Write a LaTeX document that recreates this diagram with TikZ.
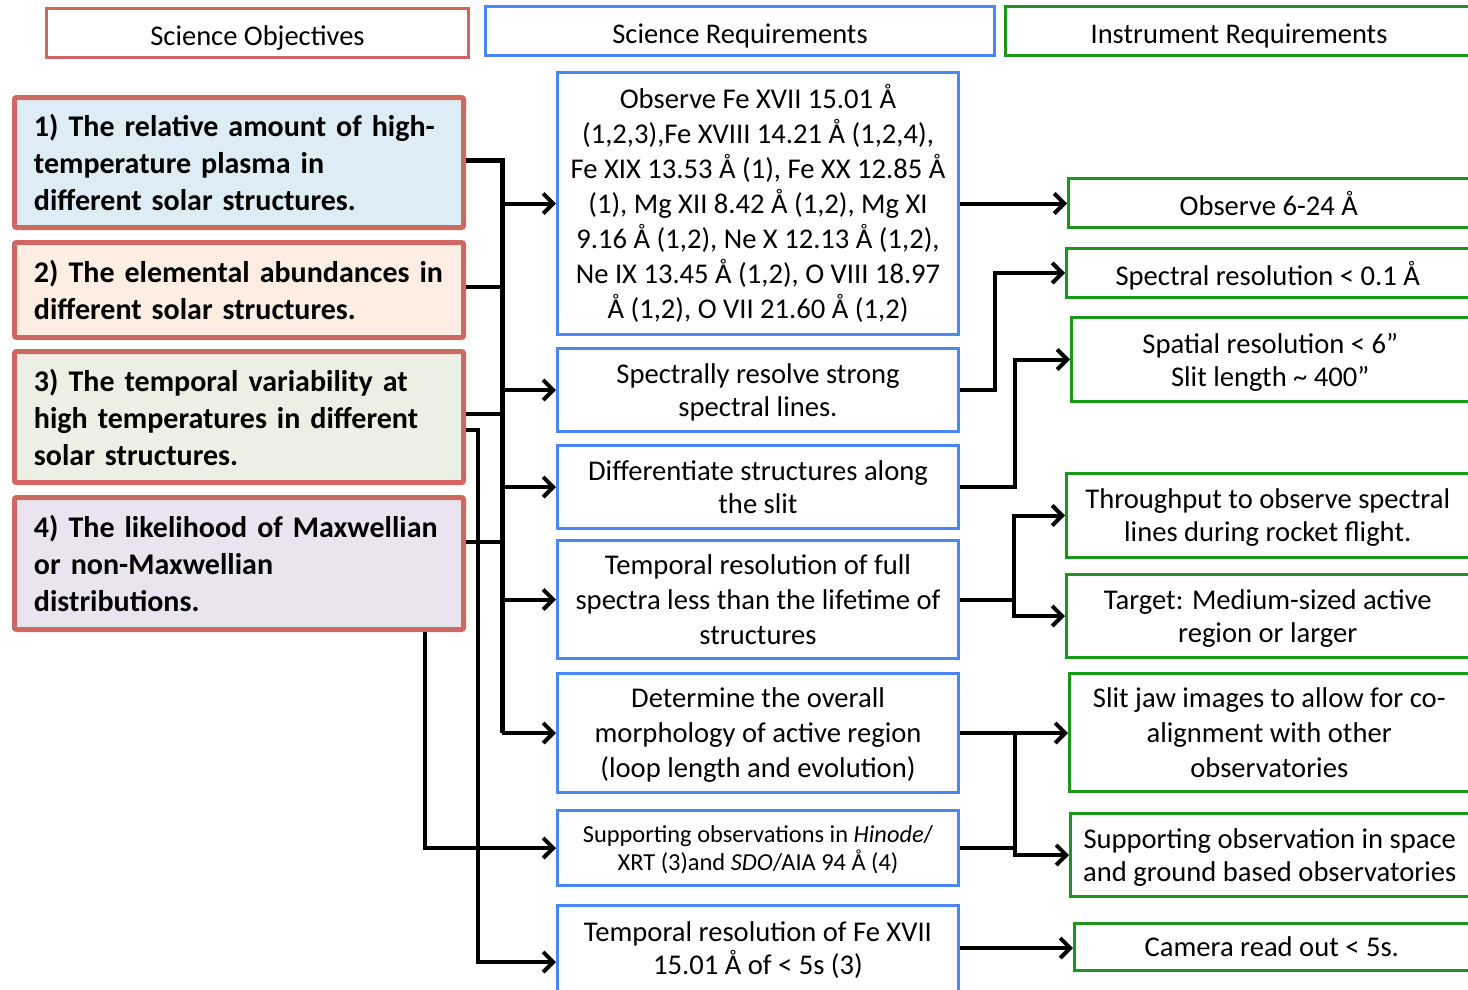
\documentclass[tikz,border=0pt]{standalone}
\usepackage{fontspec}
\setmainfont{Carlito}
\usetikzlibrary{arrows.meta}
\definecolor{objred}{RGB}{206,104,98}
\definecolor{reqblue}{RGB}{74,134,247}
\definecolor{insgreen}{RGB}{26,150,26}
\definecolor{fillA}{RGB}{222,236,245}
\definecolor{fillB}{RGB}{253,237,226}
\definecolor{fillC}{RGB}{236,240,228}
\definecolor{fillD}{RGB}{233,228,240}
\begin{document}
\begin{tikzpicture}[x=1pt,y=-1pt,
  hdr/.style={draw, line width=3pt, minimum height=49pt, inner sep=0pt, text height=25pt, text depth=0pt, font=\fontsize{28.5}{32}\selectfont},
  obj/.style={draw=objred, line width=5pt, rounded corners=2pt, minimum width=449pt, inner xsep=19.5pt, inner ysep=0pt, text width=410pt, align=left, font=\bfseries\fontsize{30}{37}\selectfont},
  req/.style={draw=reqblue, line width=3pt, minimum width=401pt, inner sep=0pt, text depth=0pt, align=center, font=\fontsize{28.6}{35}\selectfont},
  ins/.style={draw=insgreen, line width=3pt, inner sep=0pt, text depth=0pt, align=center, font=\fontsize{28.6}{33}\selectfont},
  ln/.style={line width=4pt},
  arr/.style={line width=4pt, -{Straight Barb[length=10pt,width=20pt]}}
]
\useasboundingbox (0,0) rectangle (1468,989);
\clip (0,0) rectangle (1468,989);

% headers
\node[hdr, draw=objred, minimum width=422pt] (h1) at (257.5,33) {Science Objectives};
\node[hdr, draw=reqblue, minimum width=509pt] (h2) at (740,31) {Science Requirements};
\node[hdr, draw=insgreen, minimum width=467pt] (h3) at (1239,31) {Instrument Requirements};

% objectives
\node[obj, fill=fillA, minimum height=130pt] (o1) at (239,162.5) {1) The relative amount of high-\\temperature plasma in\\different solar structures.};
\node[obj, fill=fillB, minimum height=95pt] (o2) at (239,290) {2) The elemental abundances in\\different solar structures.};
\node[obj, fill=fillC, minimum height=131pt] (o3) at (239,417) {3) The temporal variability at\\high temperatures in different\\solar structures.};
\node[obj, fill=fillD, minimum height=132pt] (o4) at (239,563.5) {4) The likelihood of Maxwellian\\or non-Maxwellian\\distributions.};

% science requirements
\node[req, minimum height=262pt, text depth=] (r1) at (758,203.5) {Observe Fe XVII 15.01 Å\\(1,2,3),Fe XVIII 14.21 Å (1,2,4),\\Fe XIX 13.53 Å (1), Fe XX 12.85 Å\\(1), Mg XII 8.42 Å (1,2), Mg XI\\9.16 Å (1,2), Ne X 12.13 Å (1,2),\\Ne IX 13.45 Å (1,2), O VIII 18.97\\Å (1,2), O VII 21.60 Å (1,2)};
\node[req, minimum height=83pt, font=\fontsize{28.6}{33}\selectfont] (r2) at (758,390) {Spectrally resolve strong\\spectral lines.};
\node[req, minimum height=83pt, font=\fontsize{28.6}{33}\selectfont] (r3) at (758,487) {Differentiate structures along\\the slit};
\node[req, minimum height=118pt, text depth=] (r4) at (758,599.5) {Temporal resolution of full\\spectra less than the lifetime of\\structures};
\node[req, minimum height=119pt] (r5) at (758,733) {Determine the overall\\morphology of active region\\(loop length and evolution)};
\node[req, minimum height=75pt, font=\fontsize{24.4}{28}\selectfont] (r6) at (758,848) {Supporting observations in \textit{Hinode}/\\XRT (3)and \textit{SDO}/AIA 94 Å (4)};
\node[req, minimum height=86pt, font=\fontsize{28.6}{33}\selectfont] (r7) at (758,948) {Temporal resolution of Fe XVII\\15.01 Å of < 5s (3)};

% instrument requirements
\node[ins, minimum width=400.5pt, minimum height=49pt] (i1) at (1268.75,203) {Observe 6-24 Å};
\node[ins, minimum width=402.5pt, minimum height=49pt] (i2) at (1267.75,273) {Spectral resolution < 0.1 Å};
\node[ins, minimum width=397.5pt, minimum height=84pt] (i3) at (1270.25,359.5) {Spatial resolution < 6”\\Slit length \textasciitilde\ 400”};
\node[ins, minimum width=402.5pt, minimum height=84pt] (i4) at (1267.75,515.5) {Throughput to observe spectral\\lines during rocket flight.};
\node[ins, minimum width=402.5pt, minimum height=83pt] (i5) at (1267.75,616) {Target: Medium-sized active\\region or larger};
\node[ins, minimum width=399.5pt, minimum height=118pt, font=\fontsize{28.6}{35}\selectfont] (i6) at (1269.25,732.5) {Slit jaw images to allow for co-\\alignment with other\\observatories};
\node[ins, minimum width=398.5pt, minimum height=83pt] (i7) at (1269.75,855) {Supporting observation in space\\and ground based observatories};
\node[ins, minimum width=394.5pt, minimum height=47pt] (i8) at (1271.75,947) {Camera read out < 5s.};

% helper coordinates
\coordinate (T) at (502,0);
\coordinate (y160) at (0,160);
\coordinate (y287) at (0,287);
\coordinate (y414) at (0,414);
\coordinate (y430) at (0,430);
\coordinate (y542) at (0,542);
\coordinate (x478) at (478,0);
\coordinate (x425) at (425,0);
\coordinate (y962) at (0,962);
\coordinate (x1015) at (1015,0);

% left connectors
\draw[ln, line width=5pt] (o1.east |- y160) -- (T |- y160) -- (T |- r5.west);
\draw[ln] (o2.east |- y287) -- (T |- y287);
\draw[ln] (o3.east |- y414) -- (T |- y414);
\draw[ln] (o4.east |- y542) -- (T |- y542);
\draw[arr] (T |- r1.west) -- (r1.west);
\draw[arr] (T |- r2.west) -- (r2.west);
\draw[arr] (T |- r3.west) -- (r3.west);
\draw[arr] (T |- r4.west) -- (r4.west);
\draw[arr] (T |- r5.west) -- (r5.west);
\draw[arr] (o3.east |- y430) -- (x478 |- y430) -- (x478 |- y962) -- (r7.west |- y962);
\draw[arr] (x425 |- o4.south) -- (x425 |- r6.west) -- (r6.west);

% right connectors
\draw[arr] (r1.east) -- (r1.east -| i1.west);
\draw[arr] (r2.east) -- ++(34.5,0) |- (i2.west);
\draw[arr] (r3.east) -- ++(54.5,0) |- (i3.west);
\draw[ln] (r4.east) -- ++(53.5,0) coordinate (j1);
\draw[arr] (j1) |- (i4.west);
\draw[arr] (j1) |- (i5.west);
\draw[arr] (r5.east) -- (r5.east -| i6.west);
\draw[arr] (r5.east -| x1015) |- (i7.west);
\draw[ln] (r6.east) -- (r6.east -| x1015);
\draw[arr] (r7.east) -- (r7.east -| i8.west);
\end{tikzpicture}
\end{document}
